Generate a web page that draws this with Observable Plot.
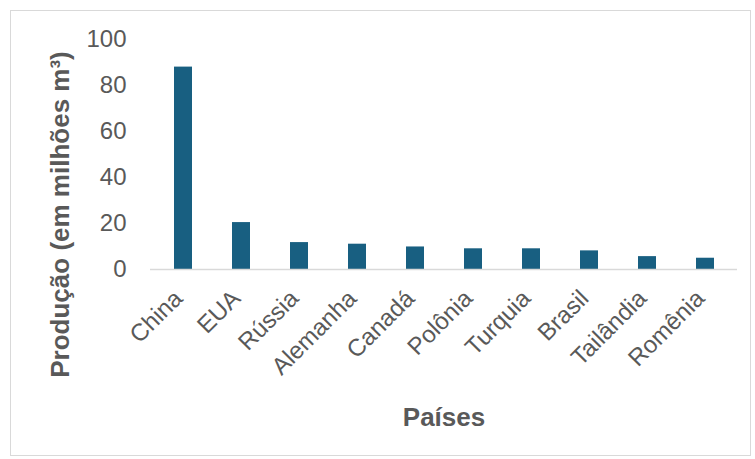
<!DOCTYPE html>
<html>
<head>
<meta charset="utf-8">
<script src="https://cdn.jsdelivr.net/npm/d3@7"></script>
<script src="https://cdn.jsdelivr.net/npm/@observablehq/plot@0.6"></script>
<style>
  html, body { margin: 0; padding: 0; background: #fff; }
  #wrap { position: relative; width: 755px; height: 459px; }
  #border { position: absolute; left: 10px; top: 10px; width: 741px; height: 446px; border: 1px solid #d9d9d9; box-sizing: border-box; pointer-events: none; }
  svg { font-family: "Liberation Sans", Arial, sans-serif; }
</style>
</head>
<body>
<div id="wrap"><div id="border"></div></div>
<script>
const paises = ["China", "EUA", "Rússia", "Alemanha", "Canadá", "Polônia", "Turquia", "Brasil", "Tailândia", "Romênia"];
const producao = [88, 20.4, 11.7, 11, 9.8, 9, 9, 8.1, 5.6, 4.9];
const yTicks = [0, 20, 40, 60, 80, 100];
const yTitle = "Produção (em milhões m³)";
const xTitle = "Países";
const data = paises.map((p, i) => ({pais: p, valor: producao[i]}));

const chart = Plot.plot({
  width: 755,
  height: 459,
  marginLeft: 150,
  marginRight: 18,
  marginTop: 39,
  marginBottom: 190,
  style: {fontFamily: "'Liberation Sans', Arial, sans-serif", color: "#595959", background: "transparent"},
  x: {domain: paises, paddingInner: 0.694, paddingOuter: 0.347, align: 0.5},
  y: {domain: [0, 100]},
  marks: [
    Plot.barY(data, {x: "pais", y: "valor", fill: "#185f81"}),
    Plot.ruleY([0], {stroke: "#d9d9d9", strokeWidth: 1.5}),
    Plot.axisY(yTicks, {tickSize: 0, tickPadding: 24, fontSize: 24, fill: "#595959", label: null}),
    Plot.axisX({tickSize: 0, tickPadding: 14, tickRotate: -45, fontSize: 24, fill: "#595959", label: null, dx: -5, dy: 11}),
    Plot.text([yTitle], {frameAnchor: "left", textAnchor: "middle", lineAnchor: "middle", rotate: -90, dx: -90, dy: 60, fontSize: 26, fontWeight: "bold", fill: "#595959"}),
    Plot.text([xTitle], {frameAnchor: "bottom", textAnchor: "middle", lineAnchor: "middle", dy: 148, fontSize: 26, fontWeight: "bold", fill: "#595959"})
  ]
});
document.getElementById("wrap").prepend(chart);
</script>
</body>
</html>
